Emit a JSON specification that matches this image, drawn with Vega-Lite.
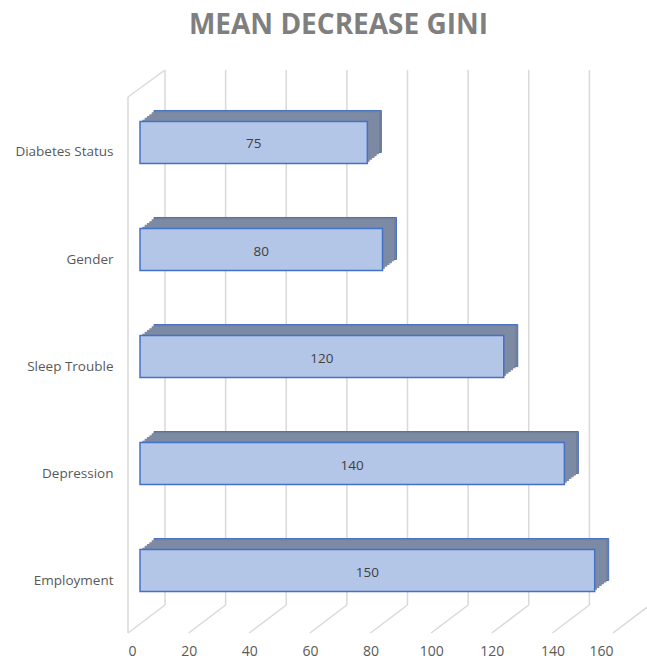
{
  "$schema": "https://vega.github.io/schema/vega-lite/v6.json",
  "autosize": {"type": "none"},
  "width": 485,
  "height": 563,
  "padding": {"left": 140, "top": 70, "right": 22, "bottom": 28},
  "background": "white",
  "title": {"text": "MEAN DECREASE GINI", "fontSize": 28, "fontWeight": "bold", "color": "#7f7f7f", "font": "Open Sans", "anchor": "middle", "dx": -44, "offset": 7, "baseline": "alphabetic"},
  "config": {"view": {"stroke": null}, "font": "Open Sans"},
  "datasets": {
    "bars": [
      {"name": "Diabetes Status", "value": 75},
      {"name": "Gender", "value": 80},
      {"name": "Sleep Trouble", "value": 120},
      {"name": "Depression", "value": 140},
      {"name": "Employment", "value": 150}
    ],
    "ticks": [{"v": 0}, {"v": 20}, {"v": 40}, {"v": 60}, {"v": 80}, {"v": 100}, {"v": 120}, {"v": 140}, {"v": 160}]
  },
  "layer": [
    {
      "data": {"name": "ticks"},
      "transform": [{"filter": "datum.v <= 140"}],
      "mark": {"type": "rule", "color": "#d9d9d9", "strokeWidth": 1.5, "xOffset": 25, "y2Offset": -28},
      "encoding": {
        "x": {"field": "v", "type": "quantitative", "scale": {"domain": [0, 160], "nice": false, "zero": true},
          "axis": {"values": [0, 20, 40, 60, 80, 100, 120, 140, 160], "title": null, "domain": false, "ticks": false, "grid": false, "labelOffset": -12, "labelPadding": 11, "labelFontSize": 14, "labelColor": "#595959", "labelFont": "Open Sans"}},
        "y": {"value": 0},
        "y2": {"value": "height"}
      }
    },
    {
      "data": {"name": "ticks"},
      "mark": {"type": "rule", "color": "#d9d9d9", "strokeWidth": 1.5, "xOffset": 25, "yOffset": -28, "x2Offset": -12, "y2Offset": 0},
      "encoding": {
        "x": {"field": "v", "type": "quantitative"},
        "x2": {"field": "v"},
        "y": {"value": "height"},
        "y2": {"value": "height"}
      }
    },
    {
      "data": {"values": [{}]},
      "mark": {"type": "rule", "color": "#d9d9d9", "strokeWidth": 1.5, "xOffset": -12, "yOffset": 27},
      "encoding": {
        "x": {"datum": 0, "type": "quantitative"},
        "y": {"value": 0},
        "y2": {"value": "height"}
      }
    },
    {
      "data": {"values": [{}]},
      "mark": {"type": "rule", "color": "#d9d9d9", "strokeWidth": 1.5, "xOffset": -12, "yOffset": 27, "x2Offset": 25, "y2Offset": 0},
      "encoding": {
        "x": {"datum": 0, "type": "quantitative"},
        "x2": {"datum": 0},
        "y": {"value": 0},
        "y2": {"value": 0}
      }
    },
    {
      "data": {"name": "bars"},
      "mark": {"type": "bar", "color": "#727f99", "stroke": "#4a72c0", "strokeWidth": 1, "xOffset": 14, "x2Offset": 14, "yOffset": -11, "y2Offset": -11},
      "encoding": {
        "x": {"field": "value", "type": "quantitative"},
        "y": {"field": "name", "type": "nominal", "sort": null,
          "scale": {"paddingInner": 0.607, "paddingOuter": 0.434, "align": 0.554},
          "axis": {"title": null, "domain": false, "ticks": false, "grid": false, "labelPadding": 27, "labelOffset": 10, "labelFontSize": 13.5, "labelColor": "#595959", "labelFont": "Open Sans"}}
      }
    },
    {
      "data": {"name": "bars"},
      "mark": {"type": "bar", "color": "#7d8aa3", "xOffset": 11.67, "x2Offset": 11.67, "yOffset": -9.17, "y2Offset": -9.17},
      "encoding": {"x": {"field": "value", "type": "quantitative"}, "y": {"field": "name", "type": "nominal", "sort": null}}
    },
    {
      "data": {"name": "bars"},
      "mark": {"type": "bar", "color": "#7d8aa3", "xOffset": 9.33, "x2Offset": 9.33, "yOffset": -7.33, "y2Offset": -7.33},
      "encoding": {"x": {"field": "value", "type": "quantitative"}, "y": {"field": "name", "type": "nominal", "sort": null}}
    },
    {
      "data": {"name": "bars"},
      "mark": {"type": "bar", "color": "#7d8aa3", "xOffset": 7, "x2Offset": 7, "yOffset": -5.5, "y2Offset": -5.5},
      "encoding": {"x": {"field": "value", "type": "quantitative"}, "y": {"field": "name", "type": "nominal", "sort": null}}
    },
    {
      "data": {"name": "bars"},
      "mark": {"type": "bar", "color": "#7d8aa3", "xOffset": 4.67, "x2Offset": 4.67, "yOffset": -3.67, "y2Offset": -3.67},
      "encoding": {"x": {"field": "value", "type": "quantitative"}, "y": {"field": "name", "type": "nominal", "sort": null}}
    },
    {
      "data": {"name": "bars"},
      "mark": {"type": "bar", "color": "#7d8aa3", "xOffset": 2.33, "x2Offset": 2.33, "yOffset": -1.83, "y2Offset": -1.83},
      "encoding": {"x": {"field": "value", "type": "quantitative"}, "y": {"field": "name", "type": "nominal", "sort": null}}
    },
    {
      "data": {"name": "bars"},
      "mark": {"type": "bar", "color": "#b4c6e7", "stroke": "#4472c4", "strokeWidth": 1.5},
      "encoding": {
        "x": {"field": "value", "type": "quantitative"},
        "y": {"field": "name", "type": "nominal", "sort": null}
      }
    },
    {
      "data": {"name": "bars"},
      "mark": {"type": "text", "color": "#404040", "fontSize": 13.5, "font": "Open Sans", "baseline": "middle", "dy": 2},
      "encoding": {
        "x": {"field": "value", "type": "quantitative", "stack": "zero", "bandPosition": 0.5},
        "y": {"field": "name", "type": "nominal", "sort": null},
        "text": {"field": "value", "type": "quantitative"}
      }
    }
  ]
}
